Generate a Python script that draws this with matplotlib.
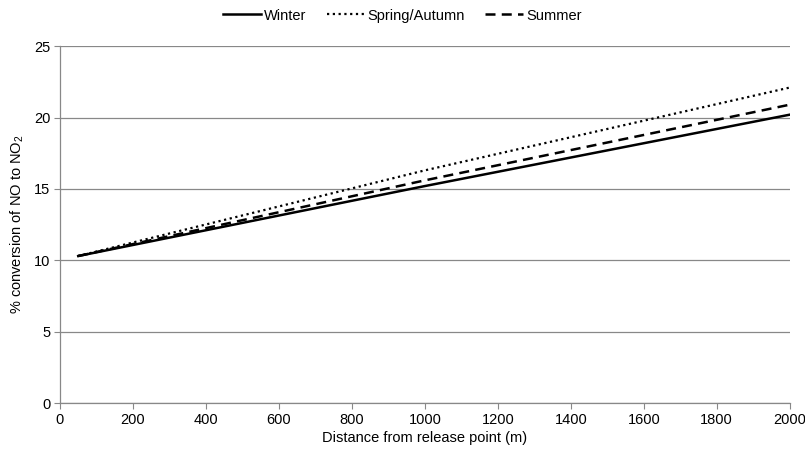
import matplotlib
matplotlib.use("Agg")
import matplotlib.pyplot as plt

plt.rcParams['font.family'] = ['Liberation Sans', 'DejaVu Sans']
plt.rcParams['mathtext.fontset'] = 'custom'
plt.rcParams['mathtext.rm'] = 'Liberation Sans'
plt.rcParams['mathtext.it'] = 'Liberation Sans:italic'

# data
distance = [50, 1000, 2000]
winter = [10.3, 15.2, 20.2]
spring_autumn = [10.3, 16.3, 22.1]
summer = [10.3, 15.6, 20.9]

x_ticks = [0, 200, 400, 600, 800, 1000, 1200, 1400, 1600, 1800, 2000]
y_ticks = [0, 5, 10, 15, 20, 25]

fs = 10.5

fig = plt.figure(figsize=(8.05, 4.57), dpi=100)
ax = fig.add_axes([0.0745, 0.118, 0.9065, 0.781])

ax.plot(distance, winter, color='black', lw=1.8, ls='-', label='Winter')
ax.plot(distance, spring_autumn, color='black', lw=1.6, ls=(0, (1, 1.6)), label='Spring/Autumn')
ax.plot(distance, summer, color='black', lw=1.8, ls=(0, (4, 2.5)), label='Summer')

ax.set_xlim(0, 2000)
ax.set_ylim(0, 25)
ax.set_xticks(x_ticks)
ax.set_yticks(y_ticks)
ax.grid(axis='y', color='#888888', lw=0.9)
ax.set_axisbelow(True)

for s in ['top', 'right']:
    ax.spines[s].set_visible(False)
for s in ['left', 'bottom']:
    ax.spines[s].set_color('#888888')
    ax.spines[s].set_linewidth(0.9)
ax.tick_params(axis='x', direction='out', length=4, color='#888888', labelsize=fs, pad=3)
ax.tick_params(axis='y', direction='out', length=4, color='#888888', labelsize=fs, pad=3)

ax.set_xlabel('Distance from release point (m)', fontsize=fs, labelpad=3)
ax.set_ylabel('% conversion of NO to NO$_2$', fontsize=fs, labelpad=6)

fig.legend(loc='upper center', bbox_to_anchor=(0.5, 1.01), ncol=3, frameon=False,
           fontsize=fs, handlelength=2.6, columnspacing=1.4, handletextpad=0.2)

fig.savefig('out.png', dpi=100)
